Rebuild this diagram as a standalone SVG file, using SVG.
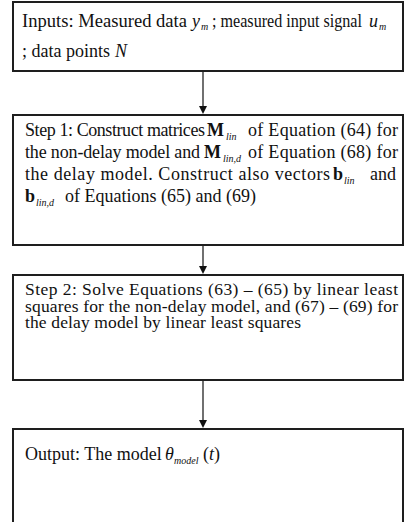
<svg xmlns="http://www.w3.org/2000/svg" width="405" height="522" viewBox="0 0 405 522">
<style>
.box{fill:#fff;stroke:#1e1e1e;stroke-width:2}
.t{font-family:"Liberation Serif","Times New Roman",serif;font-size:18px;fill:#111}
.t2{font-family:"Liberation Serif","Times New Roman",serif;font-size:17.5px;fill:#111}
.i{font-style:italic}
.b{font-weight:bold}
.s{font-family:"Liberation Serif","Times New Roman",serif;font-size:10px;font-style:italic;fill:#111}
.c{stroke:#111;stroke-width:1.2;fill:none}
.h{fill:#111}
</style>
<rect width="405" height="522" fill="#fff"/>
<g id="node-inputs">
<rect class="box" x="13" y="2" width="390" height="69"/>
<text class="t" x="22" y="26.5" textLength="165" lengthAdjust="spacingAndGlyphs">Inputs: Measured data</text>
<text class="t i" x="192" y="26.5">y</text><text class="s" x="201" y="30">m</text>
<text class="t" x="212" y="26.5" textLength="150" lengthAdjust="spacingAndGlyphs">; measured input signal</text>
<text class="t i" x="369" y="26.5">u</text><text class="s" x="379" y="30">m</text>
<text class="t" x="22" y="57">; data points</text>
<text class="t i" x="115" y="57">N</text>
</g>
<g id="node-step1">
<rect class="box" x="13" y="115" width="390" height="130"/>
<text class="t" x="25" y="136" textLength="180" lengthAdjust="spacing">Step 1: Construct matrices</text>
<text class="t b" x="207" y="136">M</text><text class="s" x="226" y="139.5">lin</text>
<text class="t" x="248" y="136" textLength="150" lengthAdjust="spacing">of Equation (64) for</text>
<text class="t" x="25" y="158" textLength="175" lengthAdjust="spacing">the non-delay model and</text>
<text class="t b" x="204" y="158">M</text><text class="s" x="223" y="161.5">lin,d</text>
<text class="t" x="248" y="158" textLength="150" lengthAdjust="spacing">of Equation (68) for</text>
<text class="t" x="25" y="180" textLength="305" lengthAdjust="spacing">the delay model. Construct also vectors</text>
<text class="t b" x="333" y="180">b</text><text class="s" x="344" y="183.5">lin</text>
<text class="t" x="370" y="180">and</text>
<text class="t b" x="25" y="202">b</text><text class="s" x="36" y="205.5">lin,d</text>
<text class="t" x="65" y="202">of Equations (65) and (69)</text>
</g>
<g id="node-step2">
<rect class="box" x="13" y="275" width="390" height="105"/>
<text class="t2" x="25" y="295" textLength="373" lengthAdjust="spacing">Step 2: Solve Equations (63) – (65) by linear least</text>
<text class="t2" x="25" y="311.5" textLength="373" lengthAdjust="spacing">squares for the non-delay model, and (67) – (69) for</text>
<text class="t2" x="25" y="328" textLength="276" lengthAdjust="spacing">the delay model by linear least squares</text>
</g>
<g id="node-output">
<rect class="box" x="13" y="429" width="390" height="110"/>
<text class="t" x="25" y="460">Output: The model</text>
<text class="t i" x="165" y="460">θ</text><text class="s" x="174" y="463.5">model</text>
<text class="t" x="203" y="460">(<tspan class="i">t</tspan>)</text>
</g>
<g id="connectors">
<line class="c" x1="203" y1="72" x2="203" y2="106"/>
<path class="h" d="M199,106 L207,106 L203,114 Z"/>
<line class="c" x1="203" y1="246" x2="203" y2="266"/>
<path class="h" d="M199,266 L207,266 L203,274 Z"/>
<line class="c" x1="203" y1="381" x2="203" y2="420"/>
<path class="h" d="M199,420 L207,420 L203,428 Z"/>
</g>
</svg>
